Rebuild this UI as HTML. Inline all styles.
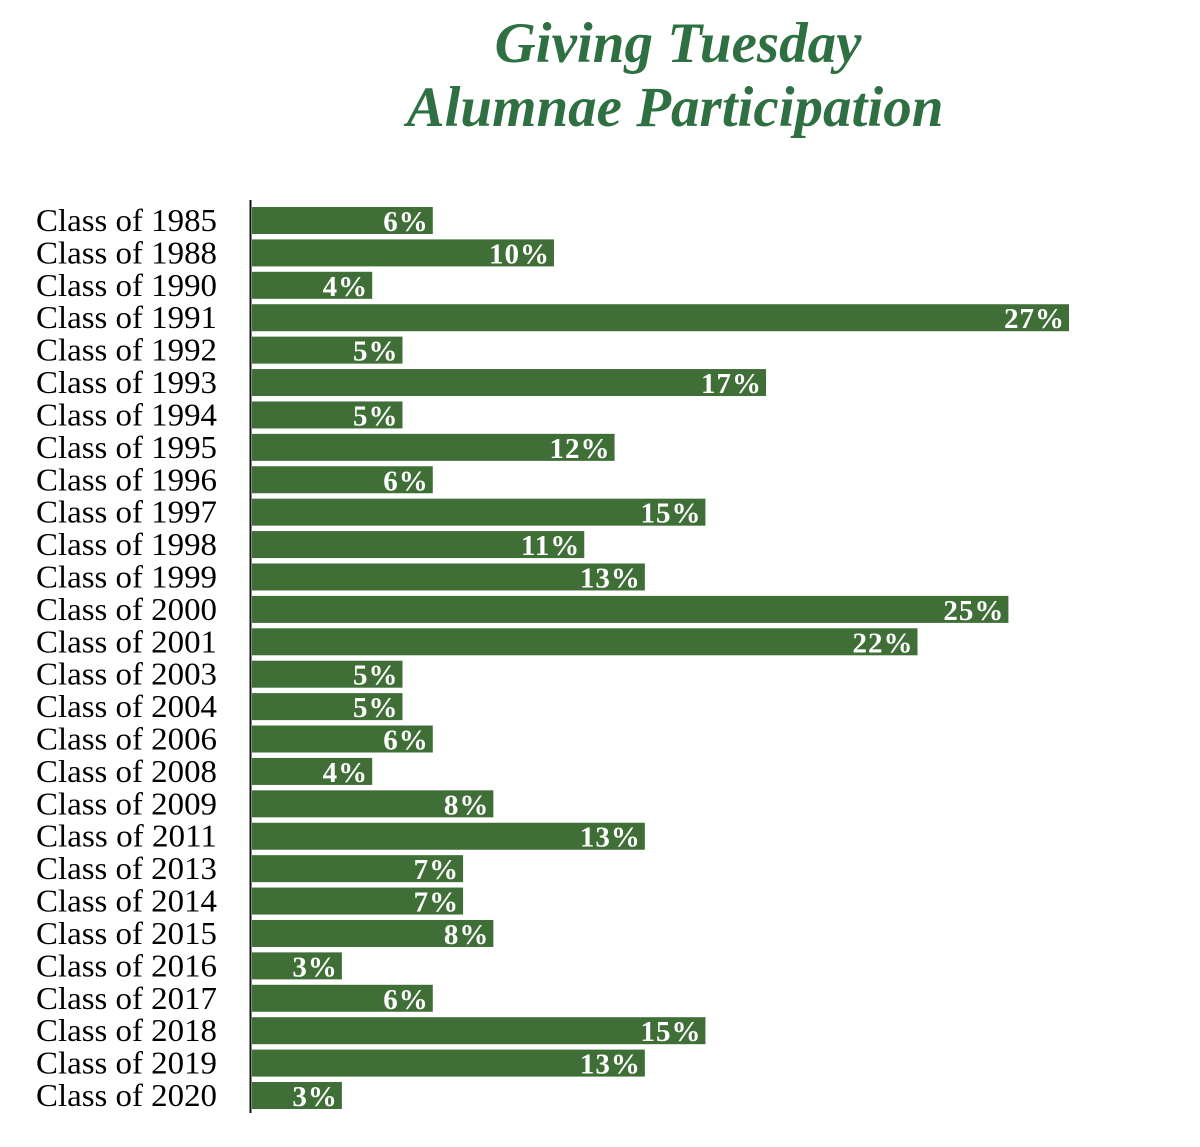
<!DOCTYPE html>
<html><head><meta charset="utf-8"><style>
body{margin:0;background:#fff;width:1200px;height:1147px;overflow:hidden}
svg{display:block}
</style></head><body>
<svg id="chart" width="1200" height="1147" xmlns="http://www.w3.org/2000/svg">
<text x="678" y="62" text-anchor="middle" font-family="Liberation Serif, serif" font-weight="bold" font-style="italic" font-size="57" fill="#2f7043">Giving Tuesday</text>
<text x="675" y="126" text-anchor="middle" font-family="Liberation Serif, serif" font-weight="bold" font-style="italic" font-size="57" fill="#2f7043">Alumnae Participation</text>
<g id="bars"></g>
<line x1="250.5" y1="200" x2="250.5" y2="1113" stroke="#111" stroke-width="2"/>
</svg>
<script>
const categories=["Class of 1985","Class of 1988","Class of 1990","Class of 1991","Class of 1992","Class of 1993","Class of 1994","Class of 1995","Class of 1996","Class of 1997","Class of 1998","Class of 1999","Class of 2000","Class of 2001","Class of 2003","Class of 2004","Class of 2006","Class of 2008","Class of 2009","Class of 2011","Class of 2013","Class of 2014","Class of 2015","Class of 2016","Class of 2017","Class of 2018","Class of 2019","Class of 2020"];
const values=[6,10,4,27,5,17,5,12,6,15,11,13,25,22,5,5,6,4,8,13,7,7,8,3,6,15,13,3];
const x0=251, pxPer=(1069-251)/27;
const xs=v=>x0+v*pxPer;
const y0=207, pitch=(1082-207)/27, bh=27;
const ys=i=>y0+i*pitch;
const g=document.getElementById('bars');
const NS="http://www.w3.org/2000/svg";
categories.forEach((c,i)=>{
 const y=ys(i);
 const t=document.createElementNS(NS,'text');
 
 
 t.setAttribute('x',217);t.setAttribute('y',y+24);t.setAttribute('text-anchor','end');
 t.setAttribute('font-family','Liberation Serif, serif');t.setAttribute('font-size','32');t.setAttribute('fill','#000');
 t.setAttribute('textLength','181');t.setAttribute('lengthAdjust','spacingAndGlyphs');
 t.textContent=c;g.appendChild(t);
 const r=document.createElementNS(NS,'rect');
 
 
 r.setAttribute('x',x0+1);r.setAttribute('y',y);r.setAttribute('width',xs(values[i])-x0-1);r.setAttribute('height',bh);r.setAttribute('fill','#3f6f37');
 g.appendChild(r);
 const v=document.createElementNS(NS,'text');
 
 
 v.setAttribute('x',xs(values[i])-4);v.setAttribute('y',y+24);v.setAttribute('text-anchor','end');
 v.setAttribute('font-family','Liberation Serif, serif');v.setAttribute('font-weight','bold');v.setAttribute('font-size','29');v.setAttribute('fill','#fff');
 v.setAttribute('letter-spacing','1');
 v.textContent=values[i]+'%';g.appendChild(v);
});
</script>
</body></html>
